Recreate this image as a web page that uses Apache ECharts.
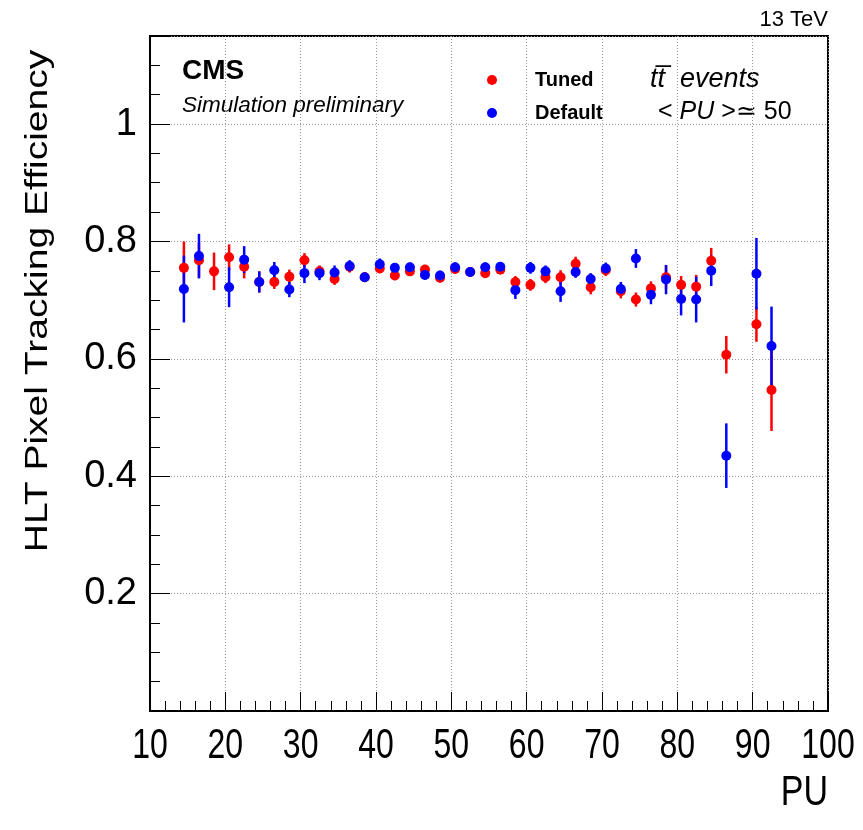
<!DOCTYPE html>
<html>
<head>
<meta charset="utf-8">
<script src="https://cdn.jsdelivr.net/npm/echarts@6/dist/echarts.min.js"></script>
<style>html,body{margin:0;padding:0;background:#fff}#c{width:863px;height:830px}</style>
</head>
<body>
<div id="c"></div>
<script>
const pu = [14.5,16.5,18.5,20.5,22.5,24.5,26.5,28.5,30.5,32.5,34.5,36.5,38.5,40.5,42.5,44.5,46.5,48.5,50.5,52.5,54.5,56.5,58.5,60.5,62.5,64.5,66.5,68.5,70.5,72.5,74.5,76.5,78.5,80.5,82.5,84.5,86.5,90.5,92.5];
const tunedEff = [0.755,0.768,0.749,0.773,0.757,0.731,0.731,0.740,0.768,0.749,0.736,0.757,0.739,0.754,0.742,0.749,0.752,0.738,0.753,0.748,0.746,0.752,0.731,0.726,0.739,0.739,0.762,0.722,0.751,0.715,0.701,0.720,0.739,0.726,0.723,0.767,0.607,0.659,0.547];
const tunedErr = [0.045,0.030,0.032,0.022,0.020,0.018,0.012,0.012,0.012,0.010,0.010,0.010,0.008,0.008,0.008,0.008,0.008,0.008,0.008,0.008,0.008,0.008,0.010,0.010,0.010,0.012,0.012,0.012,0.010,0.012,0.012,0.012,0.020,0.015,0.020,0.022,0.032,0.030,0.070];
const defaultEff = [0.719,0.775,null,0.722,0.769,0.731,0.751,0.718,0.746,0.746,0.747,0.758,0.739,0.761,0.755,0.756,0.743,0.742,0.756,0.748,0.756,0.757,0.717,0.755,0.749,0.715,0.748,0.736,0.754,0.719,0.771,0.709,0.735,0.702,0.701,0.750,0.435,0.745,0.622];
const defaultErr = [0.057,0.038,null,0.034,0.023,0.018,0.014,0.013,0.017,0.012,0.012,0.010,0.008,0.010,0.008,0.008,0.008,0.008,0.008,0.008,0.008,0.008,0.015,0.010,0.010,0.018,0.010,0.010,0.010,0.012,0.016,0.016,0.025,0.028,0.039,0.026,0.055,0.061,0.067];
const xTicks = [10,20,30,40,50,60,70,80,90,100];
const yTicks = [0.2,0.4,0.6,0.8,1];

const FONT = 'Liberation Sans';
function build(eff, err) {
  const out = [];
  for (let i = 0; i < pu.length; i++) {
    if (eff[i] == null) continue;
    out.push([pu[i], eff[i], err[i]]);
  }
  return out;
}
function errSeries(name, data, color) {
  return {
    type: 'custom', name: name + ' err', data: data, z: 3,
    renderItem: function (params, api) {
      const x = api.value(0), y = api.value(1), e = api.value(2);
      const a = api.coord([x, y + e]), b = api.coord([x, y - e]);
      return {type: 'line', shape: {x1: a[0], y1: a[1], x2: b[0], y2: b[1]}, style: {stroke: color, lineWidth: 2.5}};
    },
    encode: {x: 0, y: 1}
  };
}
const tunedData = build(tunedEff, tunedErr);
const defaultData = build(defaultEff, defaultErr);

const staticGraphic = [
  {id: 'tev', type: 'text', x: 828, y: 9, style: {text: '13 TeV', font: '22px "Liberation Sans"', fill: '#000', align: 'right', verticalAlign: 'top'}},
  {id: 'cms', type: 'text', x: 182, y: 57, style: {text: 'CMS', font: 'bold 28px "Liberation Sans"', fill: '#000', verticalAlign: 'top'}},
  {id: 'sim', type: 'text', x: 182, y: 94, style: {text: 'Simulation preliminary', font: 'italic 22.5px "Liberation Sans"', fill: '#000', verticalAlign: 'top'}},
  {id: 'tt', type: 'text', x: 650, y: 66, style: {text: 'tt\u0305  events', font: 'italic 27px "Liberation Sans"', fill: '#000', verticalAlign: 'top'}},
  {id: 'pu50', type: 'text', x: 658, y: 100, style: {rich: {a: {font: '25px "Liberation Sans"'}, b: {font: 'italic 25px "Liberation Sans"'}}, text: '{a|< }{b|PU}{a| >\u2243 50}', fill: '#000', verticalAlign: 'top'}},
  {id: 'xname', type: 'text', x: 828, y: 772, scaleY: 1.25, style: {text: 'PU', font: '34px "Liberation Sans"', fill: '#000', align: 'right', verticalAlign: 'top'}},
  {id: 'yname', type: 'text', x: 38, y: 301, rotation: Math.PI / 2, scaleX: 1.22, style: {text: 'HLT Pixel Tracking Efficiency', font: '32px "Liberation Sans"', fill: '#000', align: 'center', verticalAlign: 'middle'}}
];

const chart = echarts.init(document.getElementById('c'), null, {renderer: 'canvas'});
chart.setOption({
  animation: false,
  backgroundColor: '#fff',
  grid: {left: 150, right: 35, top: 36, bottom: 119, show: true, borderColor: '#000', borderWidth: 2, backgroundColor: 'transparent'},
  xAxis: {
    type: 'value', min: xTicks[0], max: xTicks[xTicks.length - 1], interval: 10,
    axisLine: {show: true, onZero: false, lineStyle: {color: '#000', width: 2}},
    axisTick: {show: true, inside: true, length: 19, lineStyle: {color: '#000', width: 1}},
    minorTick: {show: true, splitNumber: 5, length: 10, lineStyle: {color: '#000', width: 1}},
    axisLabel: {show: false},
    splitLine: {show: true, lineStyle: {color: '#999', width: 1, type: [1, 2]}}
  },
  yAxis: [{
    type: 'value', min: 0, max: 1.15, interval: 0.2,
    axisLine: {show: true, onZero: false, lineStyle: {color: '#000', width: 2}},
    axisTick: {show: true, inside: true, length: 20, lineStyle: {color: '#000', width: 1}},
    axisLabel: {margin: 13, color: '#000', fontSize: 38, fontFamily: FONT,
      formatter: v => {
        const m = yTicks.find(t => Math.abs(t - v) < 1e-6);
        return m !== undefined ? String(m) : '';
      }},
    splitLine: {show: true, lineStyle: {color: '#999', width: 1, type: [1, 2]}}
  }, {
    type: 'value', min: 0, max: 1.15, interval: 0.05, position: 'left',
    axisLine: {show: false},
    axisTick: {show: true, inside: true, length: 10, lineStyle: {color: '#000', width: 1}},
    axisLabel: {show: false},
    splitLine: {show: false}
  }],
  legend: {
    data: ['Tuned', 'Default'], orient: 'vertical', left: 487, top: 70,
    itemWidth: 10, itemHeight: 10, itemGap: 13, icon: 'circle', padding: 0,
    textStyle: {fontFamily: FONT, fontWeight: 'bold', fontSize: 20, color: '#000', padding: [0, 0, 0, 33]}
  },
  graphic: staticGraphic,
  series: [
    errSeries('Tuned', tunedData, '#ff0000'),
    {type: 'scatter', name: 'Tuned', data: tunedData, symbol: 'circle', symbolSize: 10, itemStyle: {color: '#ff0000', opacity: 1}, z: 4, encode: {x: 0, y: 1}},
    errSeries('Default', defaultData, '#0000ff'),
    {type: 'scatter', name: 'Default', data: defaultData, symbol: 'circle', symbolSize: 10, itemStyle: {color: '#0000ff', opacity: 1}, z: 5, encode: {x: 0, y: 1}}
  ]
});

// x tick labels, placed through the x axis scale
const bottomY = chart.convertToPixel({yAxisIndex: 0}, 0);
const xLabelGraphic = xTicks.map((v, i) => ({
  id: 'xl' + i, type: 'text',
  x: chart.convertToPixel({xAxisIndex: 0}, v), y: bottomY + 14, scaleY: 1.33,
  style: {text: String(v), font: '32px "Liberation Sans"', fill: '#000', align: 'center', verticalAlign: 'top'}
}));
chart.setOption({graphic: staticGraphic.concat(xLabelGraphic)});
</script>
</body>
</html>
